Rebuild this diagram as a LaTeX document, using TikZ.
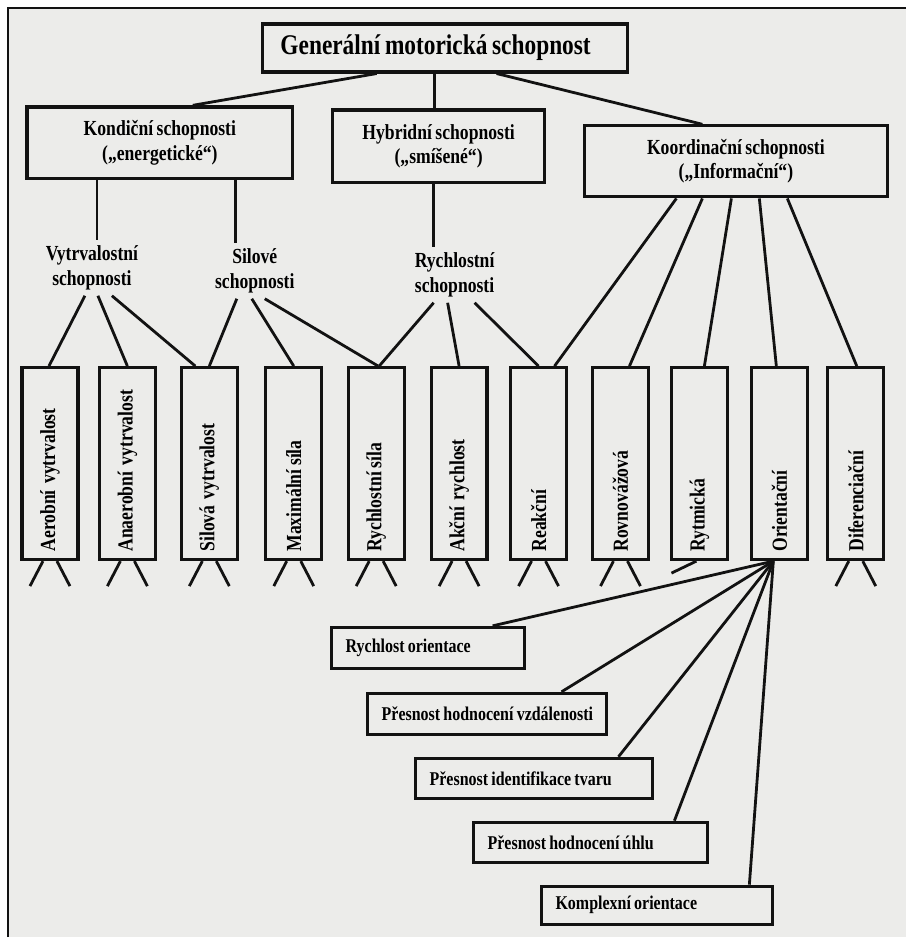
\documentclass[tikz,border=0pt]{standalone}
\usepackage{fontspec}
\setmainfont{Liberation Serif}[FakeStretch=0.82, WordSpace=0.8]
\usetikzlibrary{calc}
\definecolor{paper}{RGB}{236,236,234}
\definecolor{ink}{RGB}{18,18,18}
\newcommand\fTop{\bfseries\fontsize{28.5}{32}\selectfont}
\newcommand\fMid{\bfseries\fontsize{21.5}{24.5}\selectfont}
\newcommand\fLow{\bfseries\fontsize{19.5}{22}\selectfont}
% vertical label: text runs upwards, starting at the bottom of the box
\newcommand\vlabel[1]{\rotatebox{90}{\makebox[176pt][l]{#1}}}
% horizontal label set flush left inside a box of the given width
\newcommand\hlabel[2]{\makebox[#1][l]{\hspace{14pt}#2}}
\newcommand\wsp{\hspace{0.3em}}
\begin{document}
\begin{tikzpicture}[x=1pt, y=-1pt,
  box/.style={draw=ink, line width=3.2pt, inner sep=0pt},
  midbox/.style={box, align=center, font=\fMid},
  vbox/.style={box, minimum width=56, minimum height=192, font=\fMid},
  lowbox/.style={box, inner sep=0pt, font=\fLow},
  grouplabel/.style={align=center, font=\fMid, inner sep=0pt, outer sep=6pt},
  link/.style={draw=ink, line width=2.8pt}]

% paper and frame
\fill[white] (0,0) rectangle (907,938);
\fill[paper] (8,8) rectangle (907,938);
\draw[ink, line width=1.6pt] (8,938) -- (8,8) -- (907,8);
\useasboundingbox (0,0) rectangle (907,938);

% top level
\node[box, minimum width=365, minimum height=48, font=\fTop] (gen) at (445.5,48) {\hspace*{-19pt}Generální motorická schopnost};

% second level
\node[midbox, minimum width=266, minimum height=72] (kond) at (160,143) {Kondiční schopnosti\\(„energetické“)};
\node[midbox, minimum width=212, minimum height=73] (hyb) at (439,146.5) {Hybridní schopnosti\\(„smíšené“)};
\node[midbox, minimum width=303, minimum height=71] (koord) at (736.5,161.5) {Koordinační schopnosti\\(„Informační“)};

% group labels
\node[grouplabel] (vytr) at (92,268) {Vytrvalostní\\schopnosti};
\node[grouplabel] (silove) at (255,271) {Silové\\schopnosti};
\node[grouplabel] (rychl) at (455,275) {Rychlostní\\schopnosti};

% single abilities
\node[vbox] (b1) at (50,464) {\vlabel{Aerobní\wsp vytrvalost}};
\node[vbox] (b2) at (127.5,464) {\vlabel{Anaerobní\wsp vytrvalost}};
\node[vbox] (b3) at (209.5,464) {\vlabel{Silová\wsp vytrvalost}};
\node[vbox] (b4) at (294,464) {\vlabel{Maximální síla}};
\node[vbox] (b5) at (376.5,464) {\vlabel{Rychlostní síla}};
\node[vbox] (b6) at (459.5,464) {\vlabel{Akční\wsp rychlost}};
\node[vbox] (b7) at (539,464) {\vlabel{Reakční}};
\node[vbox] (b8) at (621,464) {\vlabel{Rovnovážová}};
\node[vbox] (b9) at (700,464) {\vlabel{Rytmická}};
\node[vbox] (b10) at (780,464) {\vlabel{Orientační}};
\node[vbox] (b11) at (856.5,464) {\vlabel{Diferenciační}};

% components of orientation
\node[lowbox, minimum height=41] (o1) at (428.5,648.5) {\hlabel{193pt}{Rychlost orientace}};
\node[lowbox, minimum height=41] (o2) at (487.5,714.5) {\hlabel{239pt}{Přesnost hodnocení vzdálenosti}};
\node[lowbox, minimum height=40] (o3) at (534.5,779) {\hlabel{237pt}{Přesnost identifikace tvaru}};
\node[lowbox, minimum height=40] (o4) at (591,843) {\hlabel{234pt}{Přesnost hodnocení úhlu}};
\node[lowbox, minimum height=38] (o5) at (657.5,906) {\hlabel{231pt}{Komplexní orientace}};

% top level to second level
\draw[link] ([xshift=-68.5]gen.south) -- ([xshift=33]kond.north);
\draw[link] ([xshift=-10.5]gen.south) -- ([xshift=-4]hyb.north);
\draw[link] ([xshift=51.5]gen.south) -- ([xshift=-33.5]koord.north);

% second level to group labels
\coordinate (kx1) at (97,0);
\coordinate (kx2) at (236,0);
\coordinate (hx) at (434,0);
\draw[link] (kond.south -| kx1) -- (vytr.north -| kx1);
\draw[link] (kond.south -| kx2) -- (silove.north -| kx2);
\draw[link] (hyb.south -| hx) -- (rychl.north -| hx);

% group labels to single abilities
\draw[link] ([xshift=-7]vytr.south) -- ([xshift=-1]b1.north);
\draw[link] ([xshift=6]vytr.south) -- (b2.north);
\draw[link] ([xshift=20]vytr.south) -- ([xshift=-14]b3.north);
\draw[link] ([xshift=-18]silove.south) -- (b3.north);
\draw[link] ([xshift=-3]silove.south) -- (b4.north);
\draw[link] ([xshift=10]silove.south) -- ([xshift=2]b5.north);
\draw[link] ([xshift=-21]rychl.south) -- ([xshift=3]b5.north);
\draw[link] ([xshift=-7]rychl.south) -- (b6.north);
\draw[link] ([xshift=20]rychl.south) -- (b7.north);

% coordination abilities
\draw[link] ([xshift=-59.5]koord.south) -- ([xshift=16]b7.north);
\draw[link] ([xshift=-33.5]koord.south) -- ([xshift=9]b8.north);
\draw[link] ([xshift=-4.5]koord.south) -- ([xshift=5]b9.north);
\draw[link] ([xshift=23.5]koord.south) -- ([xshift=-3]b10.north);
\draw[link] ([xshift=51.5]koord.south) -- ([xshift=1]b11.north);

% open branches below the boxes
\foreach \b in {b1,b2,b3,b4,b5,b6,b7,b8,b11} {
  \draw[link] ([xshift=-7]\b.south) -- ++(-13,25);
  \draw[link] ([xshift=7]\b.south) -- ++(13,25);
}
\draw[link] ([xshift=-3]b9.south) -- ++(-25,12);

% orientation fan
\coordinate (fo) at ([xshift=-6]b10.south);
\draw[link] (fo) -- ([xshift=64.5]o1.north);
\draw[link] (fo) -- ([xshift=74.5]o2.north);
\draw[link] (fo) -- ([xshift=84.5]o3.north);
\draw[link] (fo) -- ([xshift=84]o4.north);
\draw[link] (fo) -- ([xshift=92.5]o5.north);
\end{tikzpicture}
\end{document}
